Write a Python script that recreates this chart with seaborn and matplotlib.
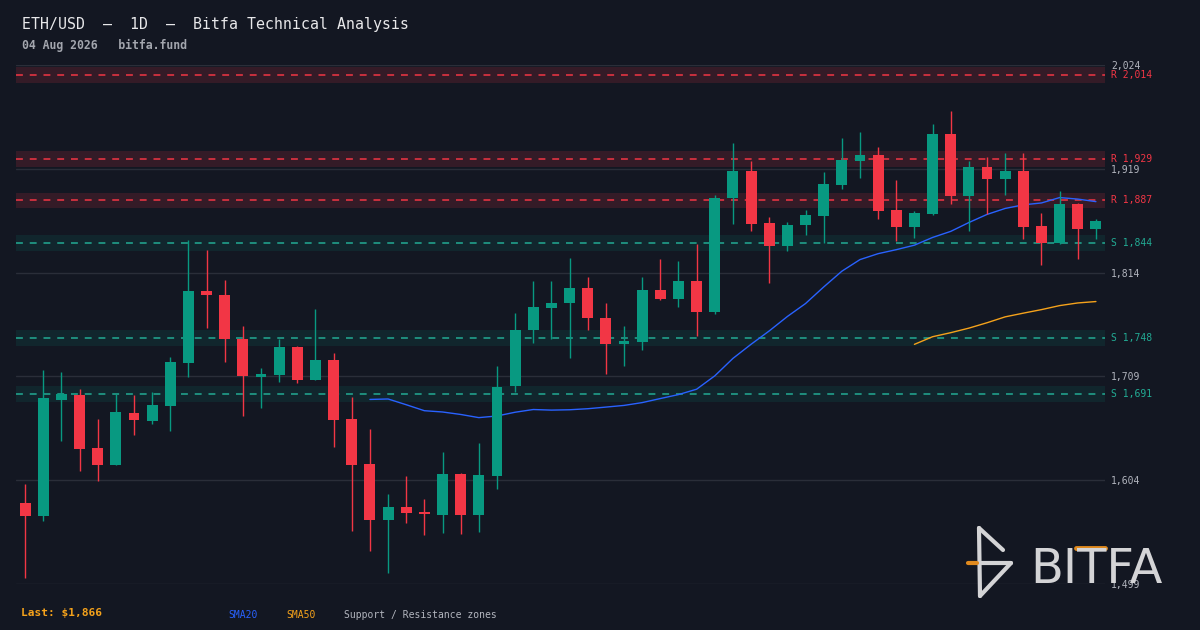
import numpy as np
import pandas as pd
import seaborn as sns
import matplotlib.pyplot as plt
from matplotlib.lines import Line2D

# Dati OHLC (60 sedute giornaliere)
opens = [1581, 1568, 1685, 1690, 1637, 1619, 1672, 1664, 1679, 1723,
         1795, 1791, 1747, 1708, 1710, 1739, 1705, 1726, 1666, 1620,
         1564, 1577, 1572, 1569, 1610, 1569, 1608, 1699, 1756, 1778,
         1783, 1798, 1768, 1742, 1744, 1796, 1787, 1806, 1774, 1889,
         1917, 1864, 1841, 1862, 1871, 1903, 1927, 1933, 1877, 1860,
         1873, 1954, 1891, 1921, 1909, 1917, 1861, 1844, 1883, 1858]
highs = [1600, 1715, 1713, 1696, 1666, 1691, 1690, 1693, 1729, 1847,
         1837, 1807, 1760, 1717, 1747, 1740, 1777, 1733, 1688, 1656,
         1590, 1608, 1585, 1633, 1611, 1642, 1720, 1773, 1805, 1806,
         1829, 1810, 1783, 1760, 1810, 1828, 1826, 1843, 1893, 1945,
         1927, 1870, 1865, 1877, 1916, 1950, 1956, 1941, 1908, 1876,
         1964, 1977, 1927, 1931, 1935, 1935, 1874, 1897, 1884, 1868]
lows = [1505, 1563, 1644, 1613, 1603, 1619, 1650, 1661, 1654, 1708,
        1758, 1724, 1669, 1677, 1703, 1702, 1705, 1638, 1553, 1532,
        1510, 1561, 1549, 1551, 1550, 1552, 1595, 1693, 1743, 1747,
        1728, 1756, 1711, 1720, 1736, 1786, 1779, 1750, 1772, 1863,
        1856, 1803, 1836, 1852, 1844, 1899, 1910, 1868, 1846, 1849,
        1872, 1883, 1856, 1873, 1892, 1848, 1822, 1843, 1828, 1848]
closes = [1568, 1687, 1691, 1636, 1619, 1673, 1665, 1680, 1724, 1795,
          1791, 1747, 1709, 1711, 1739, 1705, 1726, 1665, 1619, 1564,
          1577, 1571, 1570, 1610, 1569, 1609, 1698, 1756, 1779, 1783,
          1798, 1768, 1742, 1745, 1796, 1787, 1806, 1774, 1889, 1917,
          1863, 1841, 1862, 1872, 1904, 1928, 1933, 1876, 1860, 1874,
          1954, 1891, 1921, 1909, 1917, 1860, 1844, 1883, 1858, 1866]

resistenze = [2014, 1929, 1887]
supporti = [1844, 1748, 1691]
y_ticks = [1499, 1604, 1709, 1814, 1919, 2024]

BG = '#131722'
VERDE = '#089981'
ROSSO = '#f23645'
TEAL = '#22ab94'
BLU = '#2962ff'
ARANCIO = '#f5a21b'
GRIGIO = '#b2b5be'

df = pd.DataFrame({'x': np.arange(len(closes)), 'open': opens, 'high': highs,
                   'low': lows, 'close': closes})
df['sma20'] = df['close'].rolling(20).mean()
df['sma50'] = df['close'].rolling(50).mean()

sns.set_theme(style='dark', rc={'axes.facecolor': BG, 'figure.facecolor': BG})
plt.rcParams['font.family'] = ['DejaVu Sans Mono', 'DejaVu Sans']

fig = plt.figure(figsize=(12, 6.3), dpi=100)
ax = fig.add_axes([16 / 1200, 46 / 630, 1089 / 1200, 519 / 630])

# zone di supporto / resistenza
for lvl in resistenze:
    ax.axhspan(lvl - 7.8, lvl + 7.8, color=ROSSO, alpha=0.15, lw=0, zorder=0)
    ax.axhline(lvl, color=ROSSO, lw=1.1, dashes=(4.5, 4.5), zorder=1)
    ax.text(1.0055, lvl, f'R {lvl:,}', color=ROSSO, fontsize=7, va='center',
            transform=ax.get_yaxis_transform())
for lvl in supporti:
    ax.axhspan(lvl - 7.8, lvl + 7.8, color=VERDE, alpha=0.12, lw=0, zorder=0)
    ax.axhline(lvl, color=TEAL, lw=1.1, dashes=(4.5, 4.5), zorder=1)
    ax.text(1.0055, lvl, f'S {lvl:,}', color=TEAL, fontsize=7, va='center',
            transform=ax.get_yaxis_transform())

# medie mobili
sns.lineplot(data=df, x='x', y='sma20', color=BLU, lw=1, ax=ax, zorder=2)
sns.lineplot(data=df, x='x', y='sma50', color=ARANCIO, lw=1, ax=ax, zorder=2)

# candele
colori = [VERDE if c >= o else ROSSO for o, c in zip(df['open'], df['close'])]
ax.vlines(df['x'], df['low'], df['high'], colors=colori, lw=1, zorder=3)
corpo = (df['close'] - df['open']).abs().clip(lower=1.5)
ax.bar(df['x'], corpo, bottom=df[['open', 'close']].min(axis=1), width=0.6,
       color=colori, lw=0, zorder=4)

ax.set_xlim(-0.5, 59.5)
ax.set_ylim(1499, 2024)
ax.set_yticks(y_ticks)
ax.set_yticklabels([f'{v:,}' for v in y_ticks])
ax.yaxis.tick_right()
ax.tick_params(axis='y', length=0, pad=4.3, labelsize=7, labelcolor=GRIGIO)
ax.set_xticks([])
ax.set_xlabel('')
ax.set_ylabel('')
ax.grid(axis='y', color='#2a2e39', lw=1)
ax.grid(axis='x', visible=False)
for s in ax.spines.values():
    s.set_visible(False)


def px(x, y):
    return x / 1200, 1 - y / 630


fig.text(*px(22, 24), 'ETH/USD  \u2014  1D  \u2014  Bitfa Technical Analysis',
         color='#e8e8ea', fontsize=10.7, va='center')
fig.text(*px(22, 45), '04 Aug 2026   bitfa.fund', color='#a3a6ae',
         fontsize=8.3, fontweight='bold', va='center')
fig.text(*px(21, 613), 'Last: $1,866', color=ARANCIO, fontsize=8,
         fontweight='bold', va='center')
fig.text(*px(228, 615), 'SMA20', color=BLU, fontsize=7, va='center')
fig.text(*px(286, 615), 'SMA50', color=ARANCIO, fontsize=7, va='center')
fig.text(*px(344, 615), 'Support / Resistance zones', color=GRIGIO,
         fontsize=7, va='center')

# logo Bitfa
logo = fig.add_axes([0, 0, 1, 1], zorder=5)
logo.set_xlim(0, 1200)
logo.set_ylim(630, 0)
logo.axis('off')
logo.patch.set_visible(False)
segmenti = [((979, 980), (528, 596)), ((979, 1003), (528, 550)),
            ((977, 1011), (563, 563)), ((1011, 980), (563, 596))]
for xs, ys in segmenti:
    logo.add_line(Line2D(xs, ys, color='#d4d4d6', lw=3, solid_capstyle='round'))
logo.add_line(Line2D((968, 977), (563, 563), color='#e08a1e', lw=3))
logo.text(1030, 583, 'BITFA', color='#d4d4d6', fontsize=34.5,
          family='DejaVu Sans', va='baseline', ha='left')
logo.add_line(Line2D((1076, 1105), (548, 548), color='#e08a1e', lw=3.5))

fig.savefig('out.png', dpi=100, facecolor=BG)
